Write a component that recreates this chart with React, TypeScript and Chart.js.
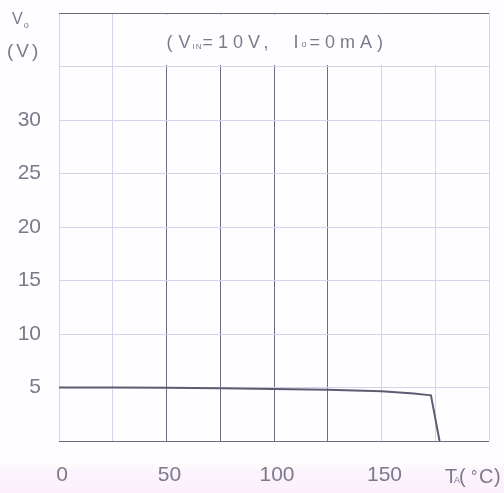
import React, { useEffect, useRef } from "react";
import { Chart, registerables } from "chart.js";

Chart.register(...registerables);

const temps = [0, 25, 50, 75, 100, 125, 150, 165, 173, 177];
const vout = [5.0, 5.0, 4.97, 4.93, 4.87, 4.78, 4.64, 4.45, 4.27, 0];
const xLabeled = [0, 50, 100, 150];
const yLabeled = [5, 10, 15, 20, 25, 30];
const darkX = [50, 75, 100, 125];

const FONT = "'Liberation Sans', Arial, sans-serif";
const TEXT = "#7a7a8c";
const LIGHT = "#d3d3ea";
const DARK = "#6c6c80";
const BG = "#fefdff";

type Part = { t: string; size: number; dy: number; ls: number };

function drawParts(ctx: CanvasRenderingContext2D, parts: Part[], x: number, y: number) {
  let cx = x;
  for (const p of parts) {
    ctx.font = `${p.size}px ${FONT}`;
    (ctx as any).letterSpacing = `${p.ls}px`;
    ctx.fillText(p.t, cx, y + p.dy);
    cx += ctx.measureText(p.t).width;
  }
}

const textPlugin = {
  id: "texts",
  beforeDatasetsDraw(chart: any) {
    const { ctx, scales } = chart;
    const x = scales.x, y = scales.y;
    const l = x.getPixelForValue(25) + 1.5;
    const r = x.getPixelForValue(200) - 1.5;
    const t = y.getPixelForValue(40) + 1.5;
    const b = y.getPixelForValue(35) - 1.5;
    ctx.save();
    ctx.fillStyle = BG;
    ctx.fillRect(l, t, r - l, b - t);
    ctx.restore();
  },
  afterDraw(chart: any) {
    const { ctx, scales } = chart;
    const x = scales.x, y = scales.y;
    ctx.save();
    ctx.fillStyle = TEXT;
    ctx.textBaseline = "alphabetic";
    ctx.textAlign = "left";
    // title
    drawParts(
      ctx,
      [
        { t: "(", size: 18, dy: 0, ls: 6 },
        { t: "V", size: 18, dy: 0, ls: 2 },
        { t: "IN", size: 8, dy: 1, ls: 1 },
        { t: "=10V,  ", size: 18, dy: 0, ls: 5 },
        { t: "I", size: 18, dy: 0, ls: 3 },
        { t: "o", size: 9, dy: -1, ls: 3 },
        { t: "=0mA)", size: 18, dy: 0, ls: 5 },
      ],
      x.getPixelForValue(50),
      y.getPixelForValue(36.7)
    );
    // y unit
    drawParts(
      ctx,
      [
        { t: "V", size: 16, dy: 0, ls: 1 },
        { t: "o", size: 9, dy: 4, ls: 0 },
      ],
      12,
      24
    );
    drawParts(ctx, [{ t: "(V)", size: 19, dy: 0, ls: 3 }], 7, 57);
    // x unit
    const bx = x.getPixelForValue(179.5);
    const parts: [string, number, number, number][] = [
      ["T", 20, 0, 0],
      ["A", 9, 0, 9],
      ["(", 20, 0, 14],
      ["°", 16, -1, 26],
      ["C", 20, 0, 34],
      [")", 20, 0, 49],
    ];
    for (const [t, size, dy, dx] of parts) {
      ctx.font = `${size}px ${FONT}`;
      (ctx as any).letterSpacing = "0px";
      ctx.fillText(t, bx + dx, 483 + dy);
    }
    ctx.restore();
  },
};

export default function App() {
  const ref = useRef<HTMLCanvasElement | null>(null);
  useEffect(() => {
    document.body.style.margin = "0";
    const canvas = ref.current!;
    const chart = new Chart(canvas, {
      type: "line",
      data: {
        datasets: [
          {
            data: temps.map((t, i) => ({ x: t, y: vout[i] })),
            borderColor: "#5c5c72",
            borderWidth: 2,
            pointRadius: 0,
            tension: 0,
            fill: false,
          },
        ],
      },
      options: {
        animation: false,
        responsive: false,
        devicePixelRatio: 1,
        layout: { padding: { top: 13, right: 15, left: 0, bottom: 0 } },
        plugins: { legend: { display: false }, tooltip: { enabled: false }, title: { display: false } },
        scales: {
          x: {
            type: "linear",
            min: 0,
            max: 200,
            afterFit: (s: any) => {
              s.height = 52;
              s.paddingLeft = 0;
              s.paddingRight = 0;
            },
            border: { display: false },
            grid: {
              drawTicks: false,
              color: (c: any) => (darkX.includes(c.tick?.value) ? DARK : LIGHT),
              lineWidth: 1,
            },
            ticks: {
              stepSize: 25,
              autoSkip: false,
              maxRotation: 0,
              padding: 22,
              labelOffset: 3,
              color: TEXT,
              font: { family: FONT, size: 21 },
              callback: (v: any) => (xLabeled.includes(Number(v)) ? String(v) : ""),
            },
          },
          y: {
            type: "linear",
            min: 0,
            max: 40,
            afterFit: (s: any) => {
              s.width = 59;
              s.paddingTop = 0;
              s.paddingBottom = 0;
            },
            border: { display: false },
            grid: {
              drawTicks: false,
              color: (c: any) => (c.tick?.value === 0 || c.tick?.value === 40 ? DARK : LIGHT),
              lineWidth: 1,
            },
            ticks: {
              stepSize: 5,
              autoSkip: false,
              padding: 18,
              color: TEXT,
              font: { family: FONT, size: 21 },
              callback: (v: any) => (yLabeled.includes(Number(v)) ? String(v) : ""),
            },
          },
        },
      },
      plugins: [textPlugin],
    });
    return () => chart.destroy();
  }, []);
  return (
    <div
      style={{
        width: 504,
        height: 493,
        background: `linear-gradient(to bottom, ${BG} 0px, ${BG} 462px, #fcf3fc 472px, #fbf0fb 493px)`,
      }}
    >
      <canvas ref={ref} width={504} height={493} style={{ display: "block" }} />
    </div>
  );
}
